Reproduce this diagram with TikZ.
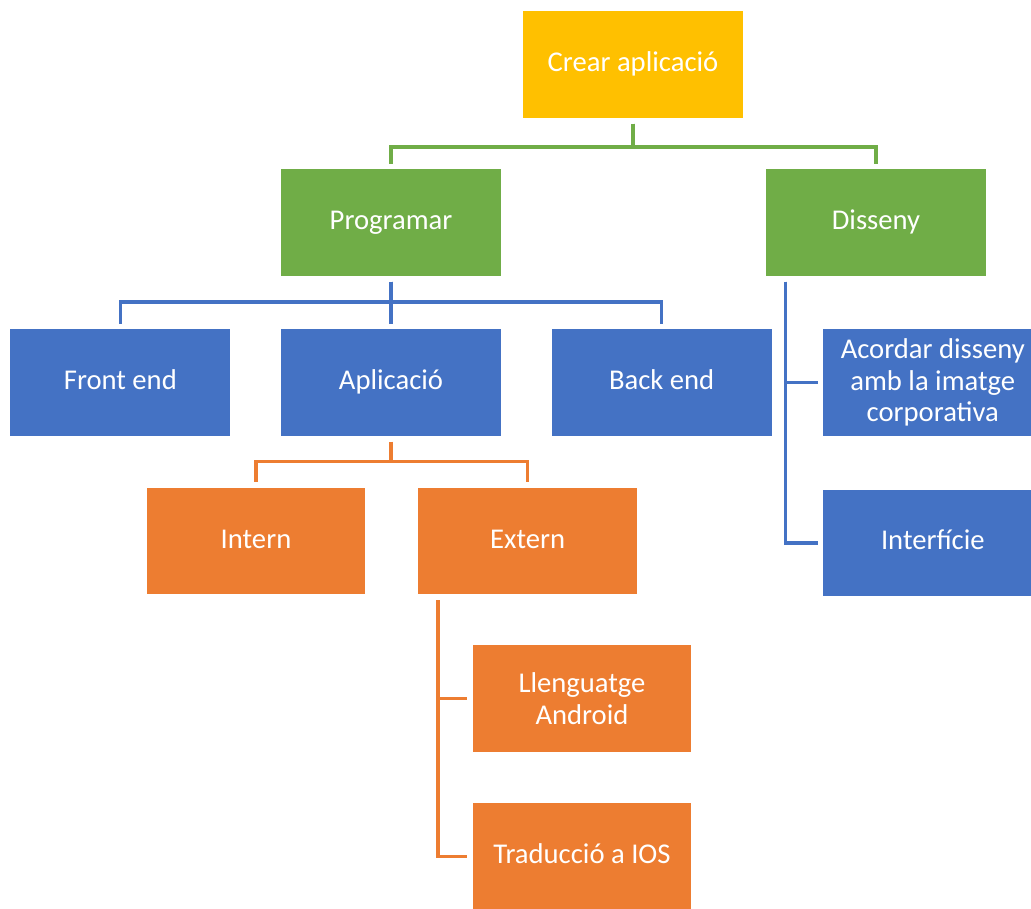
\documentclass[tikz,border=0pt]{standalone}
\usepackage{fontspec}
\setmainfont{Carlito}
\usepackage{tikz}
\usetikzlibrary{positioning}
\definecolor{topYellow}{HTML}{FFC000}
\definecolor{levelGreen}{HTML}{70AD47}
\definecolor{levelBlue}{HTML}{4472C4}
\definecolor{levelOrange}{HTML}{ED7D31}

\begin{document}
\begin{tikzpicture}[
    x=0.02cm, y=-0.02cm,
    box/.style={inner sep=2pt, align=center, text=white,
                font=\fontsize{16.3}{18}\selectfont,
                minimum width=4.38cm, minimum height=2.13cm},
    oneline/.style={text height=11.5pt, text depth=3.5pt},
    ybox/.style={box, oneline, fill=topYellow, minimum width=4.4cm},
    gbox/.style={box, oneline, fill=levelGreen, minimum width=4.4cm},
    bbox/.style={box, fill=levelBlue},
    obox/.style={box, fill=levelOrange},
    link/.style={line width=2pt, shorten <=0.11cm, shorten >=0.1cm},
    gline/.style={link, draw=levelGreen},
    bline/.style={link, draw=levelBlue},
    oline/.style={link, draw=levelOrange},
]
\clip (0,0) rectangle (1031,909);
\fill[white] (0,0) rectangle (1031,909);

\node[ybox] (crear) at (633,64.5) {Crear aplicació};
\node[gbox] (prog) at (391,222.5) {Programar};
\node[gbox] (dis) at (876,222.5) {Disseny};
\node[bbox, oneline, minimum width=4.4cm, below=1.06cm of prog] (aplic) {Aplicació};
\node[bbox, oneline, minimum width=4.4cm, left=1cm of aplic] (front) {Front end};
\node[bbox, oneline, minimum width=4.4cm, right=1cm of aplic] (back) {Back end};
\node[bbox, right=1.02cm of back] (acord) {Acordar disseny\\amb la imatge\\corporativa};
\node[bbox, oneline, below=1.06cm of acord] (interf) {Interfície};
\node[obox, oneline] (intern) at (256,541) {Intern};
\node[obox, oneline, right=1.04cm of intern] (extern) {Extern};
\node[obox] (lleng) at (582,698.5) {Llenguatge\\Android};
\node[obox, oneline, below=1.02cm of lleng] (trad) {Traducció a IOS};

\draw[gline] (crear.south) -- ++(0,29) -| (prog.north);
\draw[gline] (crear.south) -- ++(0,29) -| (dis.north);
\draw[bline] (prog.south) -- ++(0,26) -| (front.north);
\draw[bline] (prog.south) -- (aplic.north);
\draw[bline] (prog.south) -- ++(0,26) -| (back.north);
\draw[bline] (dis.south west) ++(20,0) |- (acord.west);
\draw[bline] (dis.south west) ++(20,0) |- (interf.west);
\draw[oline] (aplic.south) -- ++(0,25) -| (intern.north);
\draw[oline] (aplic.south) -- ++(0,25) -| (extern.north);
\draw[oline] (extern.south west) ++(20,0) |- (lleng.west);
\draw[oline] (extern.south west) ++(20,0) |- (trad.west);
\end{tikzpicture}
\end{document}
